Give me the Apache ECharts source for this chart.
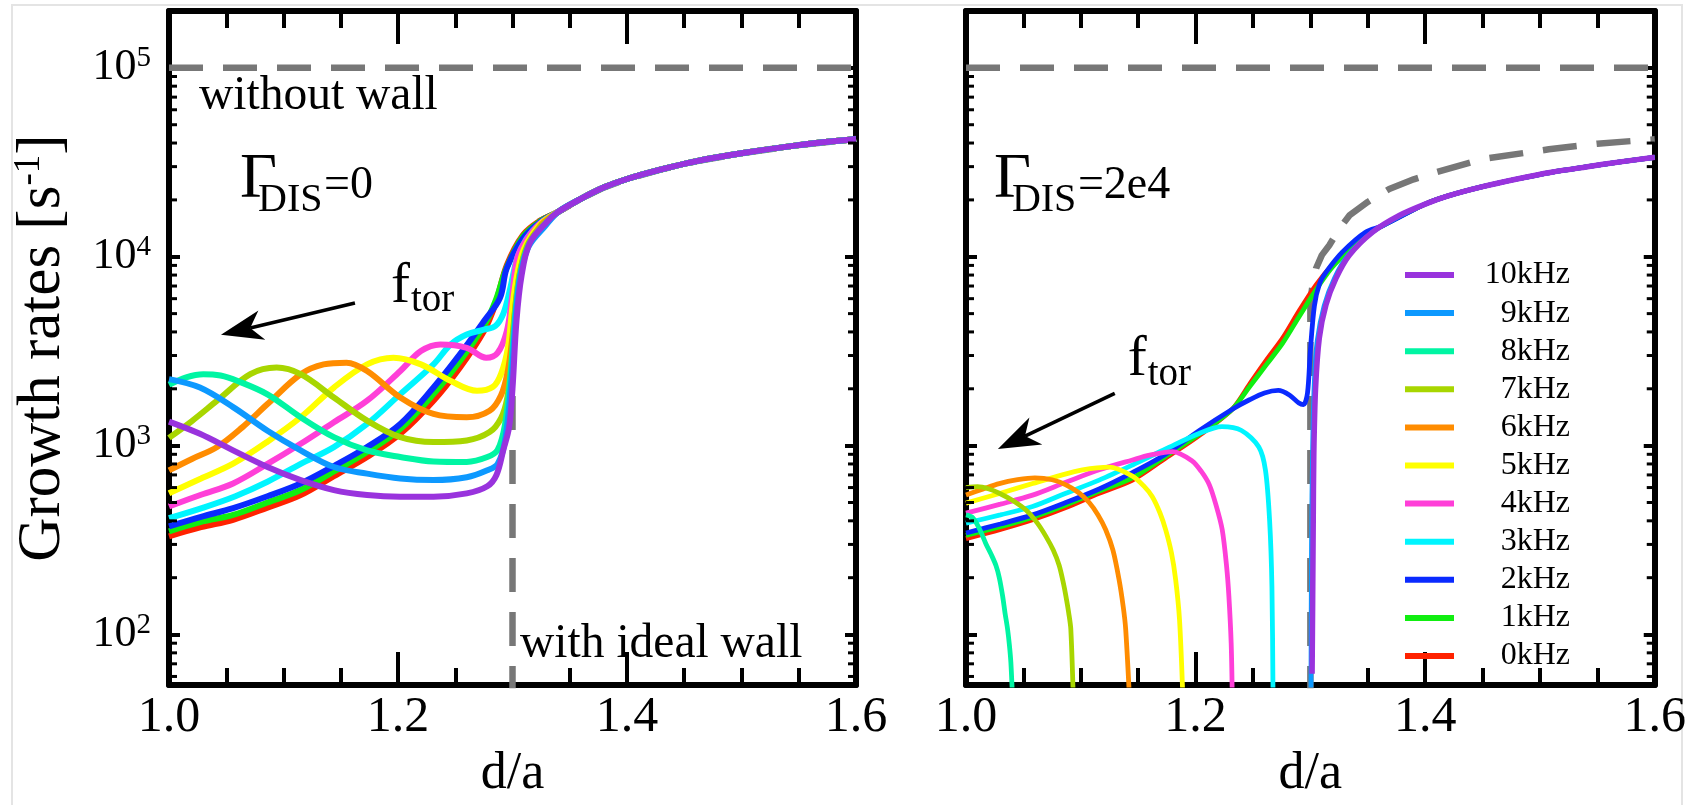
<!DOCTYPE html>
<html><head><meta charset="utf-8">
<script src="https://cdn.jsdelivr.net/npm/echarts@6/dist/echarts.min.js"></script>
<style>html,body{margin:0;padding:0;background:#fff}#c{width:1689px;height:805px}</style>
</head><body><div id="c"></div>
<script>
// ---------- names / colours ----------
const freqNames = ['0kHz','1kHz','2kHz','3kHz','4kHz','5kHz','6kHz','7kHz','8kHz','9kHz','10kHz'];
const freqColors = ['#ff2200','#11ee11','#0a2aff','#00f5ff','#ff3fd8','#ffff00','#ff8c00','#a8d600','#00f5a3','#0d99ff','#9933dd'];
const xTickValues = [1.0, 1.2, 1.4, 1.6];
const yTickExponents = [2, 3, 4, 5];
const yMinorTicks = [60,70,80,90,200,300,400,500,600,700,800,900,2000,3000,4000,5000,6000,7000,8000,9000,20000,30000,40000,50000,60000,70000,80000,90000];
const noWallRate = 1e5;

// ---------- left panel, Gamma_DIS = 0 ----------
const L0 = [[1.0,331],[1.028,370],[1.056,405],[1.086,470],[1.115,548],[1.144,690],[1.173,871],[1.202,1155],[1.231,1729],[1.254,2587],[1.275,4035],[1.285,5600],[1.295,9000],[1.309,13000],[1.324,15500]];
const L1 = [[1.0,352],[1.028,395],[1.056,430],[1.086,500],[1.115,582],[1.144,730],[1.173,925],[1.202,1225],[1.231,1874],[1.254,2800],[1.275,4300],[1.285,5800],[1.295,8800],[1.309,12800],[1.324,15400]];
const L2 = [[1.0,374],[1.028,420],[1.056,467],[1.086,540],[1.115,631],[1.144,780],[1.173,983],[1.202,1303],[1.231,2031],[1.254,3041],[1.275,4550],[1.289,6040],[1.295,8690],[1.309,12470],[1.324,15200]];
const L3 = [[1.0,413],[1.03,470],[1.058,540],[1.086,644],[1.115,800],[1.144,983],[1.173,1303],[1.202,1874],[1.231,2693],[1.246,3433],[1.26,3875],[1.275,4115],[1.285,4300],[1.292,5000],[1.298,6800],[1.304,9800],[1.312,12400],[1.324,15000]];
const L4 = [[1.0,476],[1.028,550],[1.056,631],[1.086,800],[1.115,1023],[1.144,1330],[1.173,1729],[1.202,2485],[1.22,3167],[1.237,3433],[1.26,3297],[1.277,2921],[1.287,3100],[1.295,4035],[1.2995,6040],[1.304,9800],[1.312,12300],[1.324,15000]];
const L5 = [[1.0,560],[1.028,670],[1.056,803],[1.086,1050],[1.115,1413],[1.144,2031],[1.173,2693],[1.196,2921],[1.22,2693],[1.246,2202],[1.269,1951],[1.283,2050],[1.29,2400],[1.296,3300],[1.3,5500],[1.304,8000],[1.31,11000],[1.324,14800]];
const L6 = [[1.0,740],[1.02,850],[1.042,983],[1.064,1250],[1.086,1660],[1.115,2387],[1.135,2693],[1.155,2750],[1.173,2485],[1.202,1800],[1.231,1471],[1.26,1413],[1.28,1531],[1.29,1850],[1.296,2500],[1.3,3800],[1.304,6500],[1.31,10000],[1.324,14500]];
const L7 = [[1.0,1100],[1.02,1350],[1.042,1730],[1.071,2390],[1.094,2590],[1.115,2390],[1.144,1800],[1.173,1357],[1.202,1109],[1.231,1044],[1.26,1065],[1.28,1180],[1.29,1400],[1.2955,1800],[1.299,2800],[1.302,5000],[1.306,8000],[1.313,11500],[1.324,14300]];
const L8 = [[1.0,2100],[1.015,2300],[1.03,2390],[1.045,2350],[1.06,2200],[1.086,1870],[1.115,1413],[1.144,1109],[1.173,944],[1.202,871],[1.231,825],[1.26,820],[1.278,870],[1.287,950],[1.2935,1300],[1.2985,2450],[1.3025,5000],[1.307,8200],[1.314,11500],[1.326,14300]];
const L9 = [[1.0,2250],[1.027,2030],[1.056,1600],[1.086,1200],[1.115,944],[1.144,771],[1.173,711],[1.202,670],[1.231,657],[1.26,680],[1.278,740],[1.287,800],[1.2935,1065],[1.299,2200],[1.303,5000],[1.307,8000],[1.314,11300],[1.328,14400]];
const L10 = [[1.0,1340],[1.027,1155],[1.056,944],[1.086,771],[1.115,657],[1.144,582],[1.173,548],[1.202,537],[1.231,537],[1.26,559],[1.278,610],[1.286,700],[1.292,950],[1.297,1250],[1.3,2000],[1.3035,4600],[1.308,8000],[1.315,11800],[1.33,15300]];
const leftTail = [[1.34,17300],[1.36,20300],[1.38,23300],[1.4,25800],[1.43,29000],[1.46,32000],[1.5,35300],[1.55,39000],[1.6,42000]];
const idealLeftStart = [[1.3,45],[1.3,6000],[1.3025,8500],[1.31,12300],[1.324,15500]];

// ---------- right panel, Gamma_DIS = 2e4 ----------
const R0 = [[1.0,322],[1.03,360],[1.058,405],[1.087,470],[1.116,560],[1.145,657],[1.174,860],[1.203,1130],[1.232,1560],[1.247,2113],[1.262,2850],[1.276,3720],[1.29,5140],[1.305,7100],[1.319,9040],[1.334,11060],[1.348,13000],[1.363,14660]];
const R1 = [[1.0,335],[1.03,372],[1.058,418],[1.087,485],[1.116,575],[1.145,675],[1.174,880],[1.203,1150],[1.232,1560],[1.247,2050],[1.262,2700],[1.276,3500],[1.29,4800],[1.305,6700],[1.319,8800],[1.334,10900],[1.348,12900],[1.363,14600]];
const R2 = [[1.0,345],[1.03,385],[1.058,430],[1.087,500],[1.116,590],[1.145,720],[1.174,900],[1.203,1200],[1.232,1560],[1.247,1750],[1.26,1900],[1.272,1960],[1.282,1850],[1.29,1680],[1.294,1650],[1.2975,1900],[1.3,3200],[1.3035,5500],[1.308,7200],[1.314,8340],[1.328,10610],[1.348,13500],[1.363,14600]];
const R3 = [[1.0,389],[1.03,430],[1.058,476],[1.087,560],[1.116,657],[1.145,790],[1.174,960],[1.203,1160],[1.223,1260],[1.24,1203],[1.2551,984],[1.2609,740],[1.2645,400],[1.2665,180],[1.2675,45]];
const R4 = [[1.0,439],[1.03,490],[1.058,547],[1.087,640],[1.116,745],[1.145,840],[1.16,890],[1.18,930],[1.197,830],[1.205,730],[1.212,620],[1.218,480],[1.2232,359],[1.227,230],[1.229,160],[1.231,90],[1.232,45]];
const R5 = [[1.0,496],[1.03,560],[1.058,630],[1.08,690],[1.1015,745],[1.125,770],[1.145,690],[1.155,610],[1.1623,537],[1.169,440],[1.1739,359],[1.179,270],[1.1826,196],[1.186,120],[1.189,45]];
const R6 = [[1.0,548],[1.015,590],[1.029,630],[1.045,660],[1.06,675],[1.075,660],[1.087,620],[1.098,565],[1.1073,500],[1.115,430],[1.1217,359],[1.128,280],[1.1333,196],[1.137,140],[1.1391,107],[1.1425,45]];
const R7 = [[1.0,600],[1.01,607],[1.02,590],[1.029,560],[1.04,515],[1.0522,456],[1.062,390],[1.0696,331],[1.076,280],[1.0812,232],[1.085,185],[1.087,160],[1.0895,130],[1.0913,107],[1.0935,45]];
const R8 = [[1.0,430],[1.006,415],[1.012,360],[1.0174,302],[1.022,265],[1.0261,232],[1.029,200],[1.0319,160],[1.034,130],[1.0362,107],[1.0378,88],[1.0391,71],[1.0406,45]];
const R9 = [[1.3005,45],[1.301,300],[1.302,1000],[1.3035,2200],[1.306,3600],[1.312,5500],[1.321,7700],[1.333,10200],[1.354,13500],[1.3774,16400]];
const R10 = [[1.3015,62],[1.302,150],[1.3025,400],[1.303,900],[1.3045,2000],[1.3078,3720],[1.3136,5570],[1.3223,7690],[1.3339,10190],[1.3542,13510],[1.3774,16540]];
const rightTail = [[1.4,19000],[1.42,21000],[1.45,23500],[1.48,25800],[1.51,28000],[1.54,29900],[1.57,31800],[1.6,33600]];
const idealRight = [[1.3,45],[1.3,5800],[1.3015,6800],[1.305,8700],[1.31,10200],[1.3165,11500],[1.325,14000],[1.334,16550],[1.35,19500],[1.3687,22860],[1.39,25700],[1.4093,28000],[1.45,32900],[1.5078,37050],[1.55,39700],[1.6,41870]];

// ---------- build ----------
const FONT = '"Liberation Serif", "Times New Roman", serif';
const leftSets = [L0,L1,L2,L3,L4,L5,L6,L7,L8,L9,L10].map(d => d.concat(leftTail));
const rightSets = [R0,R1,R2,R3,R4,R5,R6,R7,R8,R9,R10].map((d, i) => ([0,1,2,9,10].includes(i) ? d.concat(rightTail) : d));

function dashed(gi, data) {
  return {type:'line', xAxisIndex: gi*2, yAxisIndex: gi*2, data, symbol:'none', silent:true,
    lineStyle:{color:'#777777', width:6.5, type:[34,20]}, z:2, animation:false};
}
function curve(gi, i, data, w, sm) {
  return {type:'line', name: freqNames[i], xAxisIndex: gi*2, yAxisIndex: gi*2, data, symbol:'none', showSymbol:false,
    smooth: sm, color: freqColors[i], lineStyle:{color: freqColors[i], width: w}, z:3, animation:false};
}
function minorTicks(gi) {
  return {type:'custom', xAxisIndex: gi*2, yAxisIndex: gi*2, silent:true, clip:false, z:6, animation:false,
    data: yMinorTicks.map(v => [1.0, v]), encode:{x:0, y:1},
    renderItem: (params, api) => {
      const v = api.value(1);
      const a = api.coord([1.0, v]), b = api.coord([1.6, v]);
      return {type:'group', children:[
        {type:'line', shape:{x1:a[0], y1:a[1], x2:a[0]+8, y2:a[1]}, style:{stroke:'#000', lineWidth:3}},
        {type:'line', shape:{x1:b[0]-8, y1:b[1], x2:b[0], y2:b[1]}, style:{stroke:'#000', lineWidth:3}}
      ]};
    }};
}

const series = [];
series.push(dashed(0, [[1.0, noWallRate],[1.6, noWallRate]]));
series.push(dashed(0, idealLeftStart.concat(leftTail)));
leftSets.forEach((d, i) => series.push(curve(0, i, d, 6, 0.35)));
series.push(minorTicks(0));
series.push(dashed(1, [[1.0, noWallRate],[1.6, noWallRate]]));
series.push(dashed(1, idealRight));
rightSets.forEach((d, i) => series.push(curve(1, i, d, i === 10 ? 5.5 : 4.8, 0.3)));
series.push(minorTicks(1));

function xAxisDef(gi, pos) {
  const bottom = pos === 'bottom';
  return {type:'value', gridIndex: gi, position: pos, min:1.0, max:1.6, interval:0.2,
    axisLine:{show:true, onZero:false, lineStyle:{color:'#000', width:6}},
    axisTick:{show:true, inside:true, length:33, lineStyle:{color:'#000', width:4}},
    minorTick:{show:true, splitNumber:4, length:17, lineStyle:{color:'#000', width:4}},
    splitLine:{show:false}, minorSplitLine:{show:false},
    axisLabel:{show: bottom, margin:8, fontSize:50, fontFamily: FONT, color:'#000',
      formatter: v => (xTickValues.some(t => Math.abs(t - v) < 1e-6) ? v.toFixed(1) : '')},
    name: bottom ? 'd/a' : '', nameLocation:'middle', nameGap:51,
    nameTextStyle:{fontSize:52, fontFamily: FONT, color:'#000'}};
}
function yAxisDef(gi, pos, labels) {
  return {type:'log', logBase:10, gridIndex: gi, position: pos, min:54, max:2e5,
    axisLine:{show:true, onZero:false, lineStyle:{color:'#000', width:6}},
    axisTick:{show:true, inside:true, length:11, lineStyle:{color:'#000', width:4}},
    minorTick:{show:false}, splitLine:{show:false},
    axisLabel:{show: labels, margin:18, color:'#000', fontFamily: FONT, fontSize:43,
      formatter: v => {
        const l = Math.log10(v), e = Math.round(l);
        if (Math.abs(l - e) > 1e-6 || !yTickExponents.includes(e)) return '';
        return '{b|10}{s|' + e + '}';
      },
      rich:{ b:{fontSize:44, fontFamily: FONT, color:'#000', lineHeight:48},
             s:{fontSize:29, fontFamily: FONT, color:'#000', lineHeight:24, verticalAlign:'top'} }},
    name: labels ? 'Growth rates [s{s|-1}]' : '', nameLocation:'middle', nameGap:94, nameRotate:90,
    nameTextStyle:{fontSize:61, fontFamily: FONT, color:'#000', lineHeight:64,
      rich:{ s:{fontSize:37, fontFamily: FONT, color:'#000', lineHeight:32, verticalAlign:'top'} }}};
}

const option = {
  backgroundColor:'#ffffff',
  animation:false,
  grid:[{left:169, top:11, width:687, height:679}, {left:966, top:11, width:690, height:679}],
  xAxis:[xAxisDef(0,'bottom'), xAxisDef(0,'top'), xAxisDef(1,'bottom'), xAxisDef(1,'top')],
  yAxis:[yAxisDef(0,'left',true), yAxisDef(0,'right',false), yAxisDef(1,'left',false), yAxisDef(1,'right',false)],
  legend:{orient:'vertical', left:1405, top:259, padding:0, itemWidth:49, itemHeight:6, itemGap:6.1, icon:'rect',
    selectedMode:false, data: freqNames.slice().reverse(),
    formatter: n => '{n|' + n + '}',
    textStyle:{fontSize:32, fontFamily: FONT, color:'#000', lineHeight:30,
      rich:{n:{width:111, align:'right', fontSize:32, fontFamily: FONT, color:'#000', lineHeight:30}}}},
  series
};

const chart = echarts.init(document.getElementById('c'), null, {renderer:'canvas'});
chart.setOption(option);

// ---------- annotations, anchored in data coordinates ----------
const leftIdx = 0, rightIdx = series.findIndex((s, k) => k > 0 && s.xAxisIndex === 2);
const P = (gi, x, y) => chart.convertToPixel({seriesIndex: gi === 0 ? leftIdx : rightIdx}, [x, y]);

function txt(x, yBase, text, fs, align) {
  return {type:'text', x, y: yBase - 0.34*fs, silent:true, z:50,
    style:{text, fill:'#000', fontSize:fs, fontFamily: FONT, align: align || 'left', verticalAlign:'middle'}};
}
function gammaLabel(gi, ax, ay, rest) {
  const p = P(gi, ax, ay);
  return [txt(p[0], p[1], 'Γ', 64), txt(p[0]+18, p[1]+12, 'DIS', 40), txt(p[0]+84, p[1], rest, 46)];
}
function ftorLabel(gi, ax, ay) {
  const p = P(gi, ax, ay);
  return [txt(p[0], p[1], 'f', 57), txt(p[0]+20, p[1]+8, 'tor', 39)];
}
function arrow(gi, t, h) {
  const a = P(gi, t[0], t[1]), b = P(gi, h[0], h[1]);
  const dx = b[0]-a[0], dy = b[1]-a[1], len = Math.hypot(dx, dy);
  const ux = dx/len, uy = dy/len, nx = -uy, ny = ux;
  const L = 42, W = 15, N = 30;
  const base = [b[0]-ux*L, b[1]-uy*L];
  const notch = [b[0]-ux*N, b[1]-uy*N];
  return [
    {type:'line', silent:true, z:50, shape:{x1:a[0], y1:a[1], x2:notch[0], y2:notch[1]}, style:{stroke:'#000', lineWidth:3.5}},
    {type:'polygon', silent:true, z:50, shape:{points:[b, [base[0]+nx*W, base[1]+ny*W], notch, [base[0]-nx*W, base[1]-ny*W]]}, style:{fill:'#000'}}
  ];
}

const wwP = P(0, 1.0262, 58000), iwP = P(0, 1.3066, 72.3);
const graphics = [
  {type:'rect', silent:true, z:0, shape:{x:12, y:5, width:1670, height:830}, style:{fill:'none', stroke:'#e4e4e4', lineWidth:2}},
  txt(wwP[0], wwP[1], 'without wall', 47.5),
  txt(iwP[0], iwP[1], 'with ideal wall', 47.5),
  ...gammaLabel(0, 1.062, 19530, '=0'),
  ...gammaLabel(1, 1.0243, 19530, '=2e4'),
  ...ftorLabel(0, 1.1939, 5482),
  ...ftorLabel(1, 1.1409, 2239),
  ...arrow(0, [1.1624, 5686], [1.0454, 3860]),
  ...arrow(1, [1.1296, 1890], [1.0278, 960])
];
chart.setOption({graphic: graphics});
</script>
</body></html>
